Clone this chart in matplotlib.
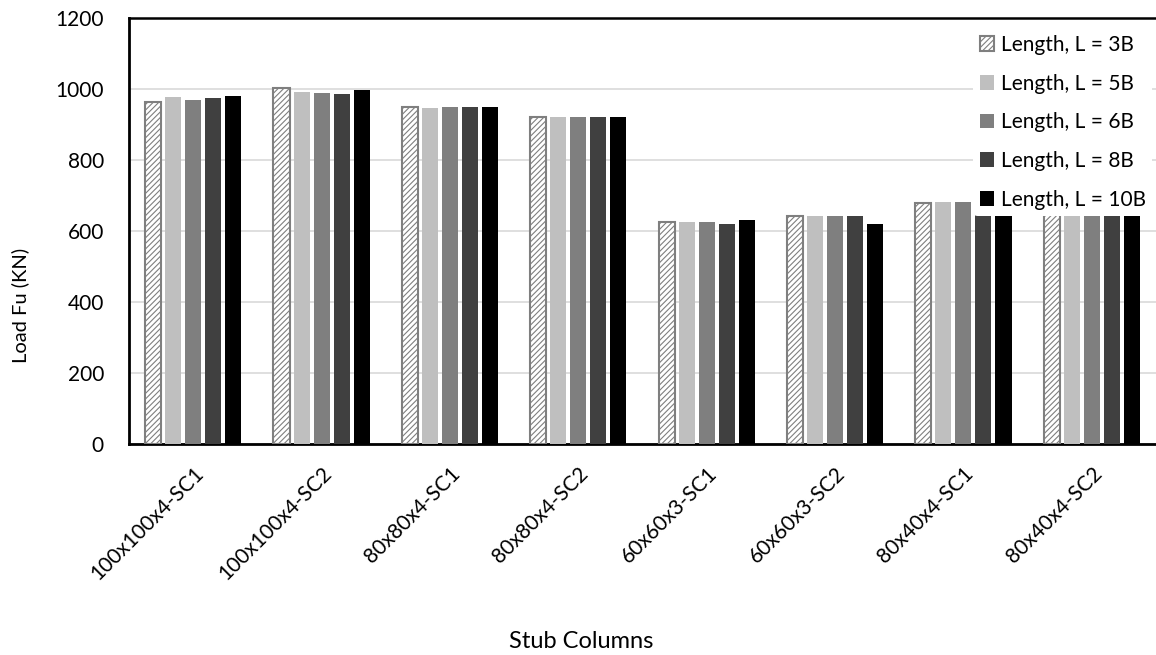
import numpy as np
import matplotlib.pyplot as plt

plt.rcParams['font.family'] = ['Lato', 'DejaVu Sans']
plt.rcParams['hatch.color'] = '#7f7f7f'
plt.rcParams['hatch.linewidth'] = 0.8

columns = ['100x100x4-SC1', '100x100x4-SC2', '80x80x4-SC1', '80x80x4-SC2',
           '60x60x3-SC1', '60x60x3-SC2', '80x40x4-SC1', '80x40x4-SC2']
series_names = ['Length, L = 3B', 'Length, L = 5B', 'Length, L = 6B',
                'Length, L = 8B', 'Length, L = 10B']

# Fu (kN) per length
L3 = [962, 1003, 949, 922, 625, 641, 678, 680]
L5 = [977, 992, 947, 922, 625, 641, 681, 682]
L6 = [968, 988, 948, 922, 625, 641, 681, 682]
L8 = [975, 987, 948, 922, 621, 641, 680, 681]
L10 = [980, 997, 948, 922, 632, 619, 680, 681]
values = [L3, L5, L6, L8, L10]

colors = ['white', '#bfbfbf', '#7f7f7f', '#404040', '#000000']

fig = plt.figure(figsize=(11.56, 6.55), dpi=100)
ax = fig.add_axes([129/1156, 1-444/655, 1-129/1156, (444-18)/655])

x = np.arange(len(columns))
pitch = 0.156
width = 0.125
for i, (name, vals) in enumerate(zip(series_names, values)):
    pos = x + (i - 2) * pitch
    if i == 0:
        ax.bar(pos, vals, width, color='white', edgecolor='#7f7f7f',
               hatch='//////', linewidth=1.5, label=name, zorder=3)
    else:
        ax.bar(pos, vals, width, color=colors[i], edgecolor='none',
               label=name, zorder=3)

ax.set_ylim(0, 1200)
ax.set_xlim(-0.5, len(columns) - 0.5)
ax.set_yticks(np.arange(0, 1201, 200))
ax.yaxis.grid(True, color='#d9d9d9', linewidth=1.2, zorder=0)
ax.set_axisbelow(True)

ax.set_xticks(x)
ax.set_xticklabels(columns, rotation=45, ha='right', rotation_mode='anchor')
ax.tick_params(axis='both', length=0, labelsize=15)
ax.tick_params(axis='x', pad=14)
ax.tick_params(axis='y', pad=18)

for s in ['left', 'bottom']:
    ax.spines[s].set_linewidth(2)
    ax.spines[s].set_color('black')
ax.spines['top'].set_linewidth(1.8)
ax.spines['right'].set_visible(False)

fig.text(20/1156, 1-305/655, 'Load Fu (KN)', rotation=90, ha='center',
         va='center', fontsize=14.5)
fig.text(581/1156, 1-641/655, 'Stub Columns', ha='center', va='center',
         fontsize=17)

leg = ax.legend(loc='upper right', bbox_to_anchor=(1.0, 0.985), frameon=True,
                fontsize=15, handlelength=0.7, handleheight=0.7,
                handletextpad=0.3, labelspacing=0.9, borderpad=0.3,
                borderaxespad=0.2)
leg.get_frame().set_edgecolor('none')
leg.get_frame().set_facecolor('white')
leg.get_frame().set_alpha(1)

fig.savefig('out.png', dpi=100)
